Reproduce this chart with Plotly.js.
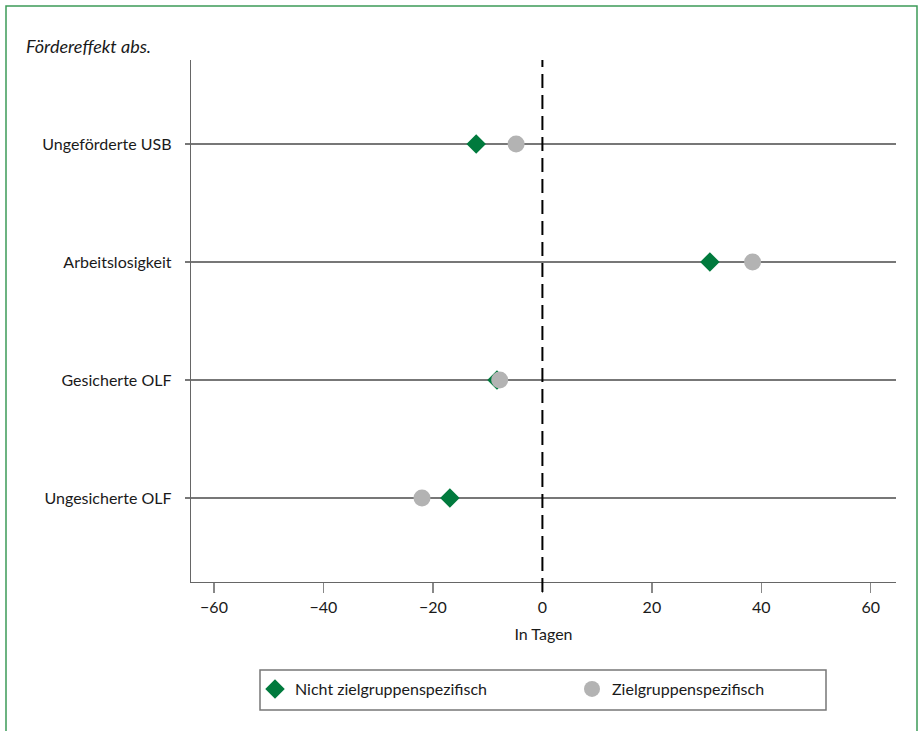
<!DOCTYPE html>
<html>
<head>
<meta charset="utf-8">
<script src="https://cdn.plot.ly/plotly-3.0.1.min.js"></script>
<style>html,body{margin:0;padding:0;background:#fff;}#chart{width:921px;height:731px;}</style>
</head>
<body>
<div id="chart"></div>
<script>
const categories = ["Ungeförderte USB", "Arbeitslosigkeit", "Gesicherte OLF", "Ungesicherte OLF"];
const nichtZielgruppen = [-12.1, 30.6, -8.3, -16.9];
const zielgruppen = [-4.8, 38.4, -7.8, -22.0];
const xTicks = [-60, -40, -20, 0, 20, 40, 60];
const seriesNames = ["Nicht zielgruppenspezifisch", "Zielgruppenspezifisch"];

const FONT = "Lato, 'Open Sans', sans-serif";
const green = "#007a3d";
const grey = "#b3b3b3";

const traces = [
  {
    type: "scatter", mode: "markers", name: seriesNames[0],
    x: nichtZielgruppen, y: categories,
    marker: {symbol: "diamond", size: 15, color: green, line: {width: 0}},
    cliponaxis: false
  },
  {
    type: "scatter", mode: "markers", name: seriesNames[1],
    x: zielgruppen, y: categories,
    marker: {symbol: "circle", size: 17, color: grey, line: {width: 0}},
    cliponaxis: false
  }
];

const W = 921, H = 731, L = 191, R = 25, T = 60, B = 149;
const pw = W - L - R, ph = H - T - B;
const px = v => (v - L) / pw;
const py = v => (H - B - v) / ph;

const layout = {
  width: W, height: H,
  margin: {l: L, r: R, t: T, b: B, autoexpand: false},
  paper_bgcolor: "#fff", plot_bgcolor: "#fff",
  font: {family: FONT, size: 16, color: "#1a1a1a"},
  showlegend: true,
  title: {
    text: "<i>Fördereffekt abs.</i>",
    xref: "container", yref: "container",
    x: 26 / W, xanchor: "left", y: 1 - 47 / H, yanchor: "middle",
    font: {family: FONT, size: 18, color: "#1a1a1a"}
  },
  xaxis: {
    range: [-64.2, 64.6],
    tickvals: xTicks,
    ticks: "outside", ticklen: 10, tickwidth: 1.3, tickcolor: "#888",
    showgrid: false, zeroline: false,
    showline: true, linecolor: "#666", linewidth: 1.3,
    tickfont: {family: FONT, size: 16, color: "#1a1a1a"},
    title: {text: "In Tagen", standoff: 14, font: {family: FONT, size: 16, color: "#1a1a1a"}},
    fixedrange: true
  },
  yaxis: {
    type: "category",
    categoryorder: "array", categoryarray: categories,
    range: [3.712, -0.712],
    ticks: "outside", ticklen: 5, tickwidth: 1.3, tickcolor: "#777",
    showgrid: true, gridcolor: "#777", gridwidth: 1.3,
    zeroline: false,
    showline: true, linecolor: "#666", linewidth: 1.3,
    ticklabelstandoff: 10,
    tickfont: {family: FONT, size: 16, color: "#1a1a1a"},
    fixedrange: true
  },
  legend: {
    orientation: "h",
    x: px(255), xanchor: "left",
    y: py(672), yanchor: "top",
    entrywidth: 272, entrywidthmode: "pixels",
    bgcolor: "rgba(0,0,0,0)", borderwidth: 0,
    font: {family: FONT, size: 16, color: "#1a1a1a"},
    itemsizing: "trace"
  },
  shapes: [
    {type: "line", xref: "x", yref: "paper", x0: 0, x1: 0, y0: py(592), y1: 1,
     line: {color: "#000", width: 2, dash: "14px,7px"}, layer: "above"},
    {type: "rect", xref: "paper", yref: "paper",
     x0: px(260), x1: px(826), y0: py(670), y1: py(710),
     line: {color: "#777", width: 1.5}, fillcolor: "rgba(0,0,0,0)"},
    {type: "rect", xref: "paper", yref: "paper",
     x0: px(6), x1: px(917), y0: py(745), y1: py(6),
     line: {color: "#3c9a58", width: 1.5}, fillcolor: "rgba(0,0,0,0)"}
  ]
};

Plotly.newPlot("chart", traces, layout, {displayModeBar: false, staticPlot: true});
</script>
</body>
</html>
